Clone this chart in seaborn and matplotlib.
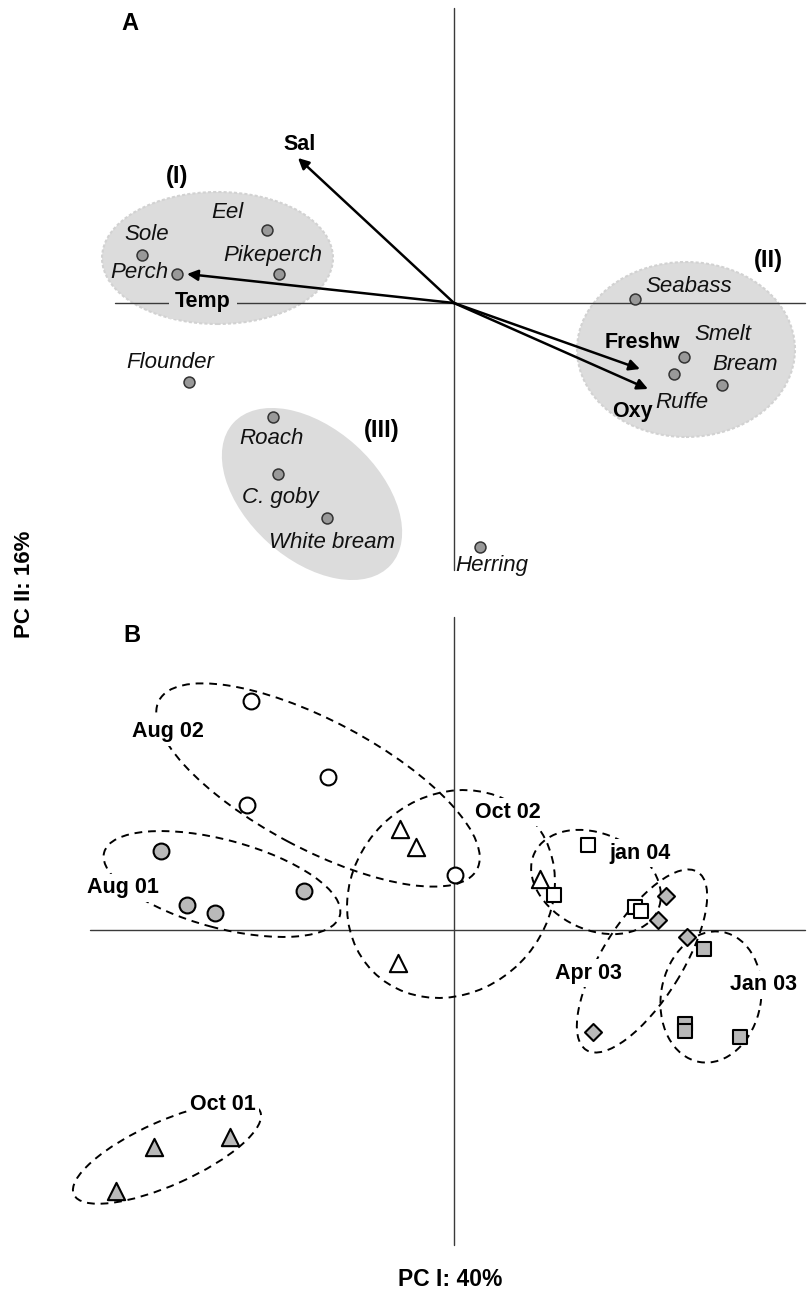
import numpy as np
import pandas as pd
import matplotlib
matplotlib.use("Agg")
import matplotlib.pyplot as plt
from matplotlib.patches import Ellipse
import seaborn as sns

# ---------------- Panel A: species scores on PC I / PC II ----------------
species = ["Eel", "Sole", "Perch", "Pikeperch", "Flounder", "Roach", "C. goby",
           "White bream", "Herring", "Seabass", "Smelt", "Ruffe", "Bream"]
species_pc1 = [-1.87, -3.12, -2.77, -1.75, -2.65, -1.81, -1.76, -1.27, 0.26, 1.81, 2.30, 2.20, 2.68]
species_pc2 = [0.73, 0.48, 0.29, 0.29, -0.79, -1.14, -1.71, -2.15, -2.44, 0.04, -0.54, -0.71, -0.82]

# environmental loadings (arrows)
env_vars = ["Sal", "Temp", "Freshw", "Oxy"]
env_pc1 = [-1.56, -2.67, 1.86, 1.94]
env_pc2 = [1.45, 0.29, -0.66, -0.86]

# species assemblages
assemblages = ["(I)", "(II)", "(III)"]
assemblage_cx = [-2.365, 2.32, -1.42]
assemblage_cy = [0.45, -0.465, -1.91]
assemblage_w = [2.31, 2.18, 2.12]
assemblage_h = [1.32, 1.75, 1.31]
assemblage_angle = [0, 0, -42]

# ---------------- Panel B: sample scores by survey ----------------
surveys = ["Aug 02", "Aug 01", "Oct 02", "Oct 01", "jan 04", "Apr 03", "Jan 03"]
survey_pc1 = {
    "Aug 02": [-2.03, -1.26, -2.07, 0.01],
    "Aug 01": [-2.93, -2.67, -2.39, -1.50],
    "Oct 02": [-0.54, -0.38, -0.56, 0.86],
    "Oct 01": [-3.00, -2.24, -3.38],
    "jan 04": [1.34, 1.00, 1.81, 1.87],
    "Apr 03": [2.12, 2.04, 2.33, 1.39],
    "Jan 03": [2.50, 2.31, 2.31, 2.86],
}
survey_pc2 = {
    "Aug 02": [2.29, 1.53, 1.25, 0.55],
    "Aug 01": [0.79, 0.25, 0.17, 0.39],
    "Oct 02": [1.01, 0.83, -0.33, 0.51],
    "Oct 01": [-2.17, -2.07, -2.61],
    "jan 04": [0.85, 0.35, 0.23, 0.19],
    "Apr 03": [0.34, 0.10, -0.07, -1.02],
    "Jan 03": [-0.19, -0.94, -1.01, -1.07],
}
# survey ellipses: centre, width, height, angle
survey_cx = [-1.36, -2.32, -0.03, -2.87, 1.42, 1.88, 2.57]
survey_cy = [1.45, 0.46, 0.36, -2.23, 0.48, -0.31, -0.67]
survey_w = [3.60, 2.44, 2.20, 2.04, 1.36, 2.10, 1.32]
survey_h = [1.28, 0.88, 1.95, 0.64, 0.96, 0.80, 1.00]
survey_angle = [-28, -15, 45, 24, -25, 58, 80]
# survey label anchor points
survey_lx = [-2.86, -3.31, 0.54, -2.31, 1.86, 1.34, 3.09]
survey_ly = [1.98, 0.42, 1.18, -1.75, 0.77, -0.43, -0.55]

# ---------------- styling ----------------
sns.set_theme(style="white")
plt.rcParams["font.family"] = ["Liberation Sans", "DejaVu Sans"]
plt.rcParams["text.color"] = "black"

W, H = 807, 1292
fig = plt.figure(figsize=(W / 100, H / 100), dpi=100)
fig.patch.set_facecolor("white")

# both panels use 100 px per score unit; origin at pixel x = 454
axA = fig.add_axes([0, 692 / H, 1, 600 / H])
axA.set_xlim(-4.54, 3.53)
axA.set_ylim(-2.97, 3.03)
axB = fig.add_axes([0, 0, 1, 692 / H])
axB.set_xlim(-4.54, 3.53)
axB.set_ylim(-3.62, 3.30)
for ax in (axA, axB):
    ax.set_axis_off()

axis_color = "#3a3a3a"
fill_grey = "#dcdcdc"

# ---- Panel A ----
for i, name in enumerate(assemblages):
    e = Ellipse((assemblage_cx[i], assemblage_cy[i]), assemblage_w[i], assemblage_h[i],
                angle=assemblage_angle[i], facecolor=fill_grey, edgecolor="none", zorder=0)
    axA.add_patch(e)
    if i < 2:
        axA.add_patch(Ellipse((assemblage_cx[i], assemblage_cy[i]), assemblage_w[i], assemblage_h[i],
                              angle=assemblage_angle[i], facecolor="none", edgecolor="#d2d2d2",
                              lw=1.5, ls=(0, (1.5, 1.0)), zorder=0.5))

axA.plot([-3.39, 3.51], [0, 0], color=axis_color, lw=1.0, zorder=1)
axA.plot([0, 0], [-2.67, 2.95], color=axis_color, lw=1.0, zorder=1)

for x, y in zip(env_pc1, env_pc2):
    axA.annotate("", xy=(x, y), xytext=(0, 0),
                 arrowprops=dict(arrowstyle="-|>", color="black", lw=1.8,
                                 mutation_scale=16, shrinkA=0, shrinkB=0),
                 zorder=3)

dfA = pd.DataFrame({"pc1": species_pc1, "pc2": species_pc2, "species": species})
sns.scatterplot(data=dfA, x="pc1", y="pc2", ax=axA, s=62, color="#999999",
                edgecolor="#333333", linewidth=1.1, legend=False, zorder=4)

species_offsets = {
    "Eel": (-40, 17, "center"), "Sole": (5, 20, "center"), "Perch": (-9, 1, "right"),
    "Pikeperch": (-6, 19, "center"), "Flounder": (-19, 20, "center"),
    "Roach": (-1, -21, "center"), "C. goby": (2, -23, "center"),
    "White bream": (5, -24, "center"), "Herring": (12, -18, "center"),
    "Seabass": (10, 12, "left"), "Smelt": (39, 22, "center"),
    "Ruffe": (8, -28, "center"), "Bream": (23, 20, "center"),
}
for name, x, y in zip(species, species_pc1, species_pc2):
    dx, dy, ha = species_offsets[name]
    axA.annotate(name, xy=(x, y), xytext=(dx, dy), textcoords="offset pixels",
                 ha=ha, va="center", fontsize=16, style="italic", color="#111111", zorder=5)

env_offsets = {"Sal": (2, 13), "Temp": (16, -28), "Freshw": (2, 27), "Oxy": (-16, -23)}
for name, x, y in zip(env_vars, env_pc1, env_pc2):
    dx, dy = env_offsets[name]
    kw = {}
    if name == "Temp":
        kw["bbox"] = dict(boxstyle="square,pad=0.3", fc=fill_grey, ec="none")
    axA.annotate(name, xy=(x, y), xytext=(dx, dy), textcoords="offset pixels",
                 ha="center", va="center", fontsize=15.5, fontweight="bold",
                 color="black", zorder=5, **kw)

assemblage_label_xy = [(-2.77, 1.26), (3.14, 0.43), (-0.72, -1.27)]
for name, (x, y) in zip(assemblages, assemblage_label_xy):
    axA.text(x, y, name, ha="center", va="center", fontsize=17, fontweight="bold",
             color="black", zorder=5)

# ---- Panel B ----
axB.plot([-3.64, 3.51], [0, 0], color=axis_color, lw=1.0, zorder=1)
axB.plot([0, 0], [-3.15, 3.13], color=axis_color, lw=1.0, zorder=1)

for i, name in enumerate(surveys):
    axB.add_patch(Ellipse((survey_cx[i], survey_cy[i]), survey_w[i], survey_h[i],
                          angle=survey_angle[i], facecolor="none", edgecolor="black",
                          lw=1.4, ls=(0, (4, 3)), zorder=2))

marker_grey = "#b9b9b9"
survey_style = {
    "Aug 02": ("o", "white", 130),
    "Aug 01": ("o", marker_grey, 130),
    "Oct 02": ("^", "white", 155),
    "Oct 01": ("^", marker_grey, 155),
    "jan 04": ("s", "white", 115),
    "Apr 03": ("D", marker_grey, 75),
    "Jan 03": ("s", marker_grey, 115),
}
for name in surveys:
    mk, fc, s = survey_style[name]
    df = pd.DataFrame({"pc1": survey_pc1[name], "pc2": survey_pc2[name]})
    sns.scatterplot(data=df, x="pc1", y="pc2", ax=axB, marker=mk, s=s, color=fc,
                    edgecolor="black", linewidth=1.5, legend=False, zorder=4)

for name, x, y in zip(surveys, survey_lx, survey_ly):
    axB.text(x, y, name, ha="center", va="center", fontsize=15.5, fontweight="bold",
             color="black", zorder=5,
             bbox=dict(boxstyle="square,pad=0.15", fc="white", ec="none"))

for ax in (axA, axB):
    ax.set_xlabel("")
    ax.set_ylabel("")

# panel letters and axis titles
fig.text(130 / W, 1 - 23 / H, "A", ha="center", va="center", fontsize=17, fontweight="bold")
fig.text(132 / W, 1 - 635 / H, "B", ha="center", va="center", fontsize=17, fontweight="bold")
fig.text(25 / W, 1 - 584 / H, "PC II: 16%", rotation=90, ha="center", va="center",
         fontsize=16, fontweight="bold")
fig.text(450 / W, 1 - 1279 / H, "PC I: 40%", ha="center", va="center",
         fontsize=16.5, fontweight="bold")

fig.savefig("out.png", dpi=100, facecolor="white")
